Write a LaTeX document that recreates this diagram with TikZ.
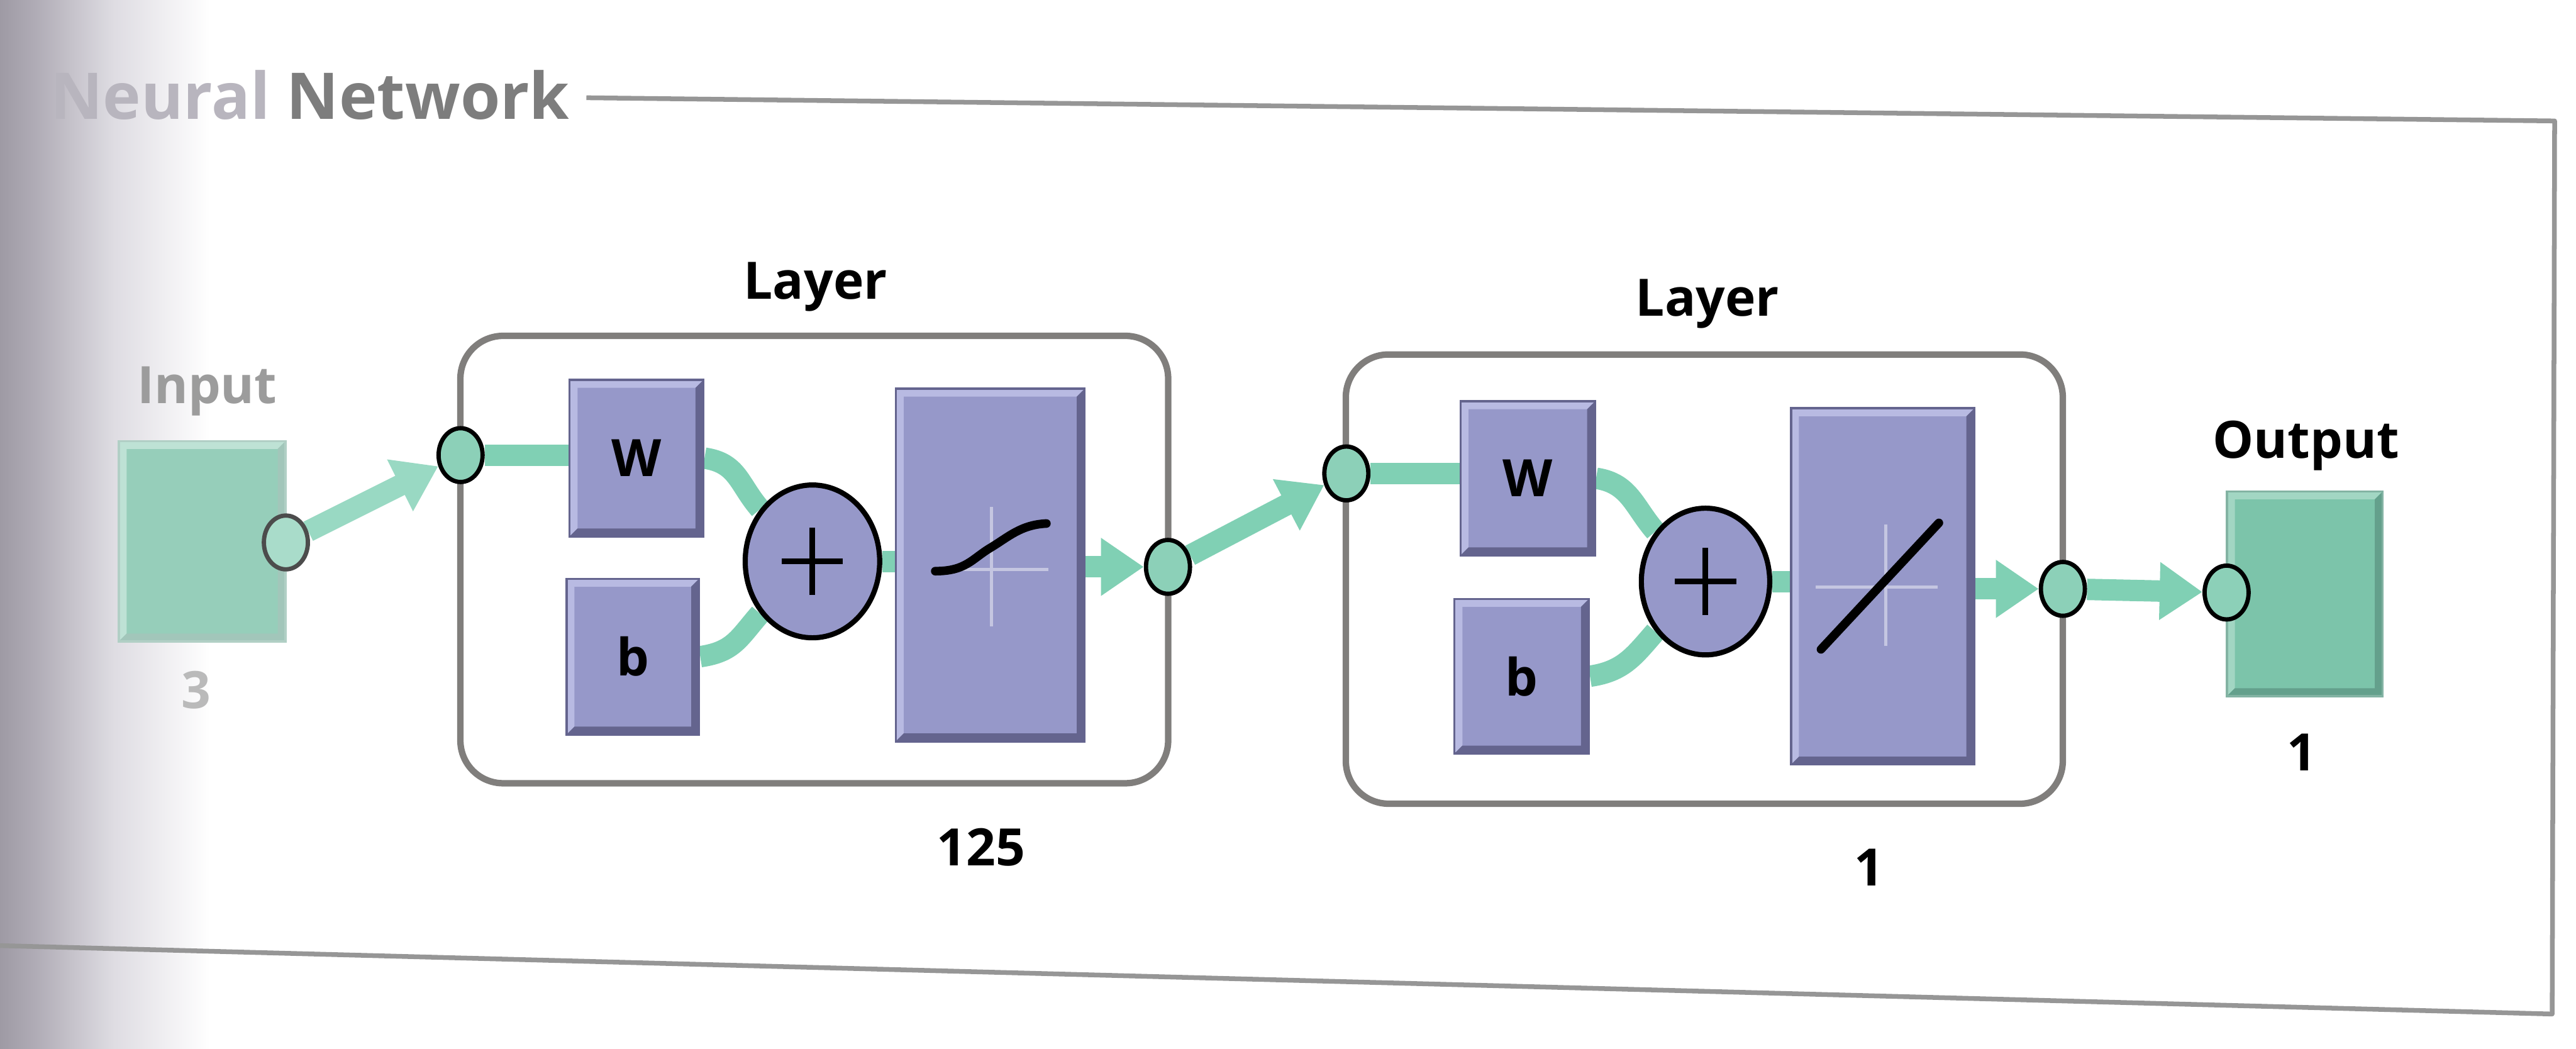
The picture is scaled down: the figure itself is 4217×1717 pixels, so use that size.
\documentclass[tikz,border=0pt]{standalone}
\usepackage{fontspec}
\setmainfont{Open Sans}
\usetikzlibrary{arrows.meta,shapes.geometric}

\definecolor{boxpurple}{RGB}{150,152,201}
\definecolor{purplelight}{RGB}{184,186,226}
\definecolor{purpledark}{RGB}{100,100,142}
\definecolor{tealfill}{RGB}{124,196,170}
\definecolor{teallight}{RGB}{162,214,195}
\definecolor{tealdark}{RGB}{100,160,140}
\definecolor{fadedteal}{RGB}{150,206,186}
\definecolor{wire}{RGB}{128,208,180}
\definecolor{portfill}{RGB}{140,208,184}
\definecolor{framegray}{RGB}{150,150,150}
\definecolor{layergray}{RGB}{128,126,124}
\definecolor{titlegray}{RGB}{125,125,125}
\definecolor{neuralgray}{RGB}{184,181,190}
\definecolor{fadedtext}{RGB}{156,156,156}
\definecolor{bindA}{RGB}{158,154,164}
\definecolor{bindB}{RGB}{176,172,182}
\definecolor{bindC}{RGB}{222,220,226}

% shadow of the book binding along the left edge
% (TikZ maps the 25bp..75bp part of a declared shading onto the path)
\pgfdeclarehorizontalshading{binding}{100bp}{color(0bp)=(bindA); color(25bp)=(bindA); color(32bp)=(bindB); color(47bp)=(bindC); color(66bp)=(white); color(100bp)=(white)}

\pgfdeclarelayer{shade}
\pgfdeclarelayer{wires}
\pgfsetlayers{shade,wires,main}

\newdimen\nnbevel
\nnbevel=0.13cm

% raised-button look: light strip top/left, dark strip bottom/right
\newcommand\nnbevelpic[2]{%
  \fill[#1] (path picture bounding box.north west) -- (path picture bounding box.north east)
    -- ([xshift=-\nnbevel,yshift=-\nnbevel]path picture bounding box.north east)
    -- ([xshift=\nnbevel,yshift=-\nnbevel]path picture bounding box.north west)
    -- ([xshift=\nnbevel,yshift=\nnbevel]path picture bounding box.south west)
    -- (path picture bounding box.south west) -- cycle;
  \fill[#2] (path picture bounding box.south east) -- (path picture bounding box.south west)
    -- ([xshift=\nnbevel,yshift=\nnbevel]path picture bounding box.south west)
    -- ([xshift=-\nnbevel,yshift=\nnbevel]path picture bounding box.south east)
    -- ([xshift=-\nnbevel,yshift=-\nnbevel]path picture bounding box.north east)
    -- (path picture bounding box.north east) -- cycle;
}

\tikzset{
  lbl/.style={font=\fontsize{24}{28}\selectfont\bfseries, inner sep=0pt},
  pbox/.style={lbl, fill=boxpurple, draw=purpledark, line width=1pt,
    path picture={\nnbevelpic{purplelight}{purpledark}}},
  tbox/.style={lbl, fill=tealfill, draw=tealdark!80, line width=1pt,
    path picture={\nnbevelpic{teallight}{tealdark}}},
  tboxfaded/.style={lbl, fill=fadedteal, draw=tealdark!50, line width=1pt,
    path picture={\nnbevelpic{teallight!70!white}{tealdark!60!white}}},
  port/.style={ellipse, fill=portfill, draw=black, line width=2pt,
    minimum width=0.72cm, minimum height=0.88cm, inner sep=0pt},
  sumnode/.style={ellipse, fill=boxpurple, draw=black, line width=2.4pt, inner sep=0pt,
    path picture={
      \draw[line width=2.6pt] ([xshift=-0.5cm]path picture bounding box.center) -- ([xshift=0.5cm]path picture bounding box.center);
      \draw[line width=2.6pt] ([yshift=-0.55cm]path picture bounding box.center) -- ([yshift=0.55cm]path picture bounding box.center);}},
  layerbox/.style={draw=layergray, line width=3pt, rounded corners=0.7cm, inner sep=0pt},
  wireline/.style={draw=wire, line width=0.35cm},
  wirearrow/.style={wireline, -{Triangle[length=0.7cm,width=0.9cm]}},
  axisline/.style={white, opacity=0.45, line width=1.4pt},
  tfline/.style={black, line width=4pt, line cap=round},
}

\begin{document}
\begin{tikzpicture}[x=0.01cm, y=-0.01cm]
\useasboundingbox (0,0) rectangle (4217,1717);

\begin{pgfonlayer}{shade}
  \shade[shading=binding] (0,0) rectangle (420,1717);
\end{pgfonlayer}

% panel frame
\draw[framegray, line width=2.2pt, line join=round] (960,160) -- (4182,198) -- (4178,1660) -- (0,1548);

% panel title
\node[lbl, font=\fontsize{30}{34}\selectfont\bfseries, anchor=base east, text=titlegray] (title) at (933,195)
  {\textcolor{neuralgray}{Neural} Network};

% input
\node[tboxfaded, minimum width=2.73cm, minimum height=3.28cm] (inp) at (331,886) {};
\node[lbl, text=fadedtext] (inplbl) at (339,640) {Input};
\node[lbl, text=fadedtext!70] (inpn) at (321,1130) {3};
\node[port, fill=portfill!75!white, draw=black!70] (inpC) at (468,888) {};

% hidden layer
\node[layerbox, minimum width=11.58cm, minimum height=7.32cm] (L1) at (1333,916) {};
\node[lbl] (L1lbl) at (1335,470) {Layer};
\node[lbl] (L1n) at (1606,1387) {125};
\node[pbox, minimum width=2.19cm, minimum height=2.56cm] (W1) at (1042,750) {W};
\node[pbox, minimum width=2.17cm, minimum height=2.55cm] (b1) at (1036,1075) {b};
\node[sumnode, minimum width=2.2cm, minimum height=2.5cm] (P1) at (1330,919) {};
\node[pbox, minimum width=3.09cm, minimum height=5.77cm] (F1) at (1621,925) {};
\node[port] (L1in) at (754,745) {};
\node[port] (L1out) at (1912,928) {};
\begin{scope}[shift={(F1.center)}]
  \draw[axisline] (2,-95) -- (2,100) (-95,7) -- (95,7);
  \draw[tfline] (-90,10) .. controls (-40,10) and (-30,-10) .. (0,-28)
                         .. controls (30,-46) and (50,-66) .. (92,-68);
\end{scope}

% output layer
\node[layerbox, minimum width=11.73cm, minimum height=7.35cm] (L2) at (2790,948) {};
\node[lbl] (L2lbl) at (2795,497) {Layer};
\node[lbl] (L2n) at (3060,1420) {1};
\node[pbox, minimum width=2.2cm, minimum height=2.52cm] (W2) at (2501,783) {W};
\node[pbox, minimum width=2.2cm, minimum height=2.53cm] (b2) at (2491,1107) {b};
\node[sumnode, minimum width=2.1cm, minimum height=2.4cm] (P2) at (2792,952) {};
\node[pbox, minimum width=3.0cm, minimum height=5.83cm] (F2) at (3082,960) {};
\node[port] (L2in) at (2204,775) {};
\node[port] (L2out) at (3377,964) {};
\begin{scope}[shift={(F2.center)}]
  \draw[axisline] (5,-101) -- (5,97) (-110,1) -- (90,1);
  \draw[tfline] (-101,103) -- (92,-104);
\end{scope}

% output
\node[tbox, minimum width=2.55cm, minimum height=3.35cm] (out) at (3773,972) {};
\node[lbl] (outlbl) at (3775,730) {Output};
\node[lbl] (outn) at (3768,1232) {1};
\node[port] (outC) at (3645,970) {};

% signal flow
\begin{pgfonlayer}{wires}
  \draw[wirearrow, draw=wire!80!white] (inpC) -- (L1in);
  \draw[wireline] (L1in) -- (L1in -| W1.west);
  \draw[wireline] (W1.east) .. controls +(55,8) and +(-35,-40) .. (P1.135);
  \draw[wireline] (b1.east) .. controls +(55,-8) and +(-35,40) .. (P1.225);
  \draw[wireline] (P1.east) -- (P1.east -| F1.west);
  \draw[wirearrow] (F1.east |- L1out) -- (L1out);
  \draw[wirearrow] (L1out) -- (L2in);
  \draw[wireline] (L2in) -- (L2in -| W2.west);
  \draw[wireline] (W2.east) .. controls +(55,8) and +(-35,-40) .. (P2.135);
  \draw[wireline] (b2.east) .. controls +(55,-8) and +(-35,40) .. (P2.225);
  \draw[wireline] (P2.east) -- (P2.east -| F2.west);
  \draw[wirearrow] (F2.east |- L2out) -- (L2out);
  \draw[wirearrow] (L2out) -- (outC);
\end{pgfonlayer}
\end{tikzpicture}
\end{document}
